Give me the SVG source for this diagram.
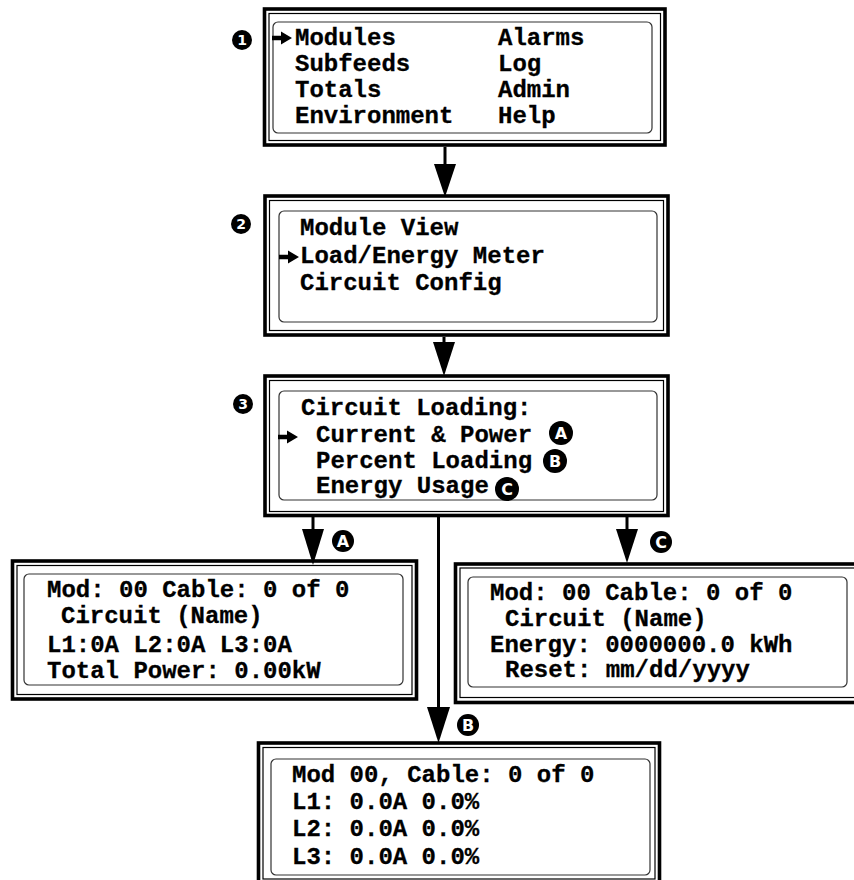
<svg xmlns="http://www.w3.org/2000/svg" width="854" height="880" viewBox="0 0 854 880">
<style>
.outer{fill:none;stroke:#000;stroke-width:3.6}
.thin{fill:none;stroke:#000;stroke-width:1.2}
.lcd{fill:none;stroke:#333;stroke-width:1.2}
.t{font-family:"Liberation Mono","Courier New",monospace;font-weight:bold;font-size:24px;fill:#000;stroke:#000;stroke-width:0.3}
.stem{stroke:#000;stroke-width:3;fill:none}
.head{fill:#000}
.badge{fill:#000}
.bt{font-family:"DejaVu Sans","Liberation Sans",sans-serif;font-weight:bold;font-size:16px;fill:#fff;text-anchor:middle}
.nt{font-family:"DejaVu Sans","Liberation Sans",sans-serif;font-weight:bold;font-size:14px;fill:#fff;text-anchor:middle}
</style>
<defs>
<path id="cur" d="M0,-2.2 H9 V-6.5 L20,0 L9,6.5 V2.2 H0 Z" fill="#000"/>
</defs>
<rect width="854" height="880" fill="#fff"/>

<g id="connectors">
<line class="stem" x1="445" y1="147" x2="445" y2="166"/>
<polygon class="head" points="434,164 456,164 445,197"/>
<line class="stem" x1="444" y1="337" x2="444" y2="344"/>
<polygon class="head" points="433,342 455,342 444,376"/>
<line class="stem" x1="313" y1="517" x2="313" y2="531"/>
<polygon class="head" points="302,529 324,529 313,565"/>
<line class="stem" x1="627" y1="517" x2="627" y2="531"/>
<polygon class="head" points="616,529 638,529 627,563"/>
<line class="stem" x1="438.5" y1="517" x2="438.5" y2="709"/>
<polygon class="head" points="427,707 450,707 438.5,743"/>
<circle class="badge" cx="343" cy="541" r="11"/><text class="bt" x="343" y="547">A</text>
<circle class="badge" cx="661" cy="542" r="11"/><text class="bt" x="661" y="548">C</text>
<circle class="badge" cx="468" cy="725" r="11"/><text class="bt" x="468" y="731">B</text>
</g>

<g id="main-menu">
<circle class="badge" cx="242" cy="40" r="10"/><text class="nt" x="242" y="45">1</text>
<rect class="outer" x="264.5" y="9" width="400.5" height="136"/>
<rect class="thin" x="269" y="13.5" width="391.5" height="127"/>
<rect class="lcd" x="273" y="22" width="379" height="111" rx="5"/>
<use href="#cur" x="272" y="38"/>
<text class="t" x="295" y="45">Modules</text>
<text class="t" x="295" y="71">Subfeeds</text>
<text class="t" x="295" y="97">Totals</text>
<text class="t" x="295" y="123">Environment</text>
<text class="t" x="498" y="45">Alarms</text>
<text class="t" x="498" y="71">Log</text>
<text class="t" x="498" y="97">Admin</text>
<text class="t" x="498" y="123">Help</text>
</g>

<g id="modules-menu">
<circle class="badge" cx="241" cy="224" r="10"/><text class="nt" x="241" y="229">2</text>
<rect class="outer" x="265" y="196" width="403" height="139"/>
<rect class="thin" x="269.5" y="200.5" width="394" height="130"/>
<rect class="lcd" x="279" y="211" width="378" height="111" rx="5"/>
<use href="#cur" x="279" y="257"/>
<text class="t" x="300" y="235">Module View</text>
<text class="t" x="300" y="263">Load/Energy Meter</text>
<text class="t" x="300" y="290">Circuit Config</text>
</g>

<g id="circuit-loading">
<circle class="badge" cx="243" cy="404" r="10"/><text class="nt" x="243" y="409">3</text>
<rect class="outer" x="265" y="376" width="403" height="139.5"/>
<rect class="thin" x="269.5" y="380.5" width="394" height="131"/>
<rect class="lcd" x="279" y="391" width="378" height="109" rx="5"/>
<use href="#cur" x="278" y="437"/>
<text class="t" x="301" y="415">Circuit Loading:</text>
<text class="t" x="316" y="442">Current &amp; Power</text>
<text class="t" x="316" y="468">Percent Loading</text>
<text class="t" x="316" y="493">Energy Usage</text>
<circle class="badge" cx="561" cy="433" r="12"/><text class="bt" x="561" y="439">A</text>
<circle class="badge" cx="555" cy="461" r="12"/><text class="bt" x="555" y="467">B</text>
<circle class="badge" cx="507" cy="489" r="12"/><text class="bt" x="507" y="495">C</text>
</g>

<g id="current-power">
<rect class="outer" x="12.5" y="561" width="404" height="138"/>
<rect class="thin" x="17" y="565.5" width="395" height="129"/>
<rect class="lcd" x="24" y="574" width="379" height="111" rx="5"/>
<text class="t" x="47" y="597">Mod: 00 Cable: 0 of 0</text>
<text class="t" x="61" y="623">Circuit (Name)</text>
<text class="t" x="47" y="652">L1:0A L2:0A L3:0A</text>
<text class="t" x="47" y="678">Total Power: 0.00kW</text>
</g>

<g id="energy-usage">
<rect class="outer" x="455.5" y="564" width="410" height="138.5"/>
<rect class="thin" x="460" y="568" width="401" height="129.5"/>
<rect class="lcd" x="468" y="577" width="379" height="110" rx="5"/>
<text class="t" x="490" y="600">Mod: 00 Cable: 0 of 0</text>
<text class="t" x="505" y="626">Circuit (Name)</text>
<text class="t" x="490" y="652">Energy: 0000000.0 kWh</text>
<text class="t" x="505" y="677">Reset: mm/dd/yyyy</text>
</g>

<g id="percent-loading">
<rect class="outer" x="258.5" y="743" width="401" height="141"/>
<rect class="thin" x="263" y="747.5" width="392" height="131.5"/>
<rect class="lcd" x="271" y="759" width="379" height="116" rx="5"/>
<text class="t" x="292" y="782">Mod 00, Cable: 0 of 0</text>
<text class="t" x="292" y="809">L1: 0.0A 0.0%</text>
<text class="t" x="292" y="836">L2: 0.0A 0.0%</text>
<text class="t" x="292" y="864">L3: 0.0A 0.0%</text>
</g>
</svg>
